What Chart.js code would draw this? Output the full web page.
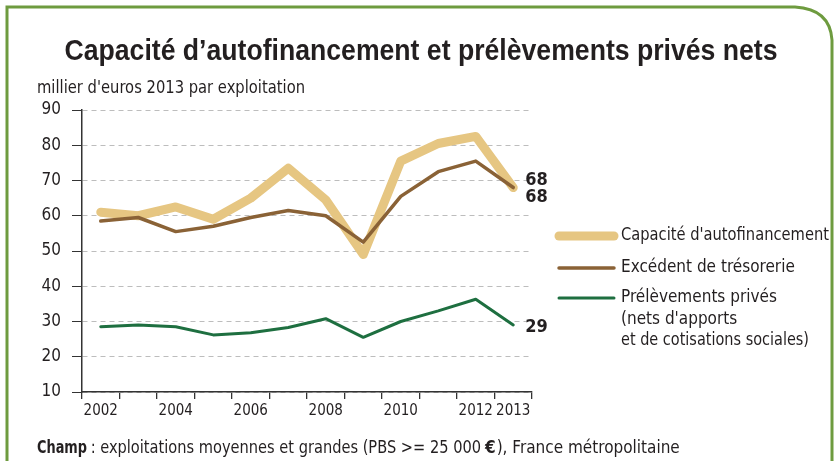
<!DOCTYPE html>
<html>
<head>
<meta charset="utf-8">
<script src="https://cdn.jsdelivr.net/npm/chart.js@4"></script>
<style>
	html, body { margin: 0; padding: 0; background: #fff; }
	canvas { display: block; }
</style>
</head>
<body>
<canvas id="chart" width="834" height="461"></canvas>
<script>
const years = ['2002', '2003', '2004', '2005', '2006', '2007', '2008', '2009', '2010', '2011', '2012', '2013'];
const shownYears = ['2002', '2004', '2006', '2008', '2010', '2012', '2013'];
const capacite = [61, 60, 62.5, 59, 65, 73.5, 64.5, 49, 75.5, 80.5, 82.5, 68];
const excedent = [58.5, 59.5, 55.5, 57, 59.5, 61.5, 60, 52.5, 65.5, 72.5, 75.5, 68];
const prelevements = [28.5, 29, 28.5, 26.2, 26.8, 28.3, 30.8, 25.5, 30, 33, 36.3, 29];
const endLabels = ['68', '68', '29'];

const seriesNames = ["Capacité d'autofinancement", 'Excédent de trésorerie', 'Prélèvements privés'];
const colors = ['#e6c682', '#8a6236', '#1e6f40'];
const widths = [9, 3.5, 3];

const textColor = '#231f20';
const narrow = '"Liberation Sans Narrow", "DejaVu Sans Condensed", sans-serif';

// Extra drawing: frame, titles, legend, end labels
const decorations = {
	id: 'decorations',
	afterDraw(chart) {
		const ctx = chart.ctx;
		const x = chart.scales.x;
		const y = chart.scales.y;
		ctx.save();

		// green frame with rounded top-right corner
		ctx.strokeStyle = '#6e9b3f';
		ctx.lineWidth = 3;
		ctx.beginPath();
		ctx.moveTo(7, 470);
		ctx.lineTo(7, 7);
		ctx.lineTo(795, 7);
		ctx.quadraticCurveTo(830, 9, 832, 40);
		ctx.lineTo(832, 470);
		ctx.stroke();

		// title
		ctx.fillStyle = textColor;
		ctx.textBaseline = 'alphabetic';
		ctx.textAlign = 'center';
		ctx.font = 'bold 29px "Liberation Sans", sans-serif';
		ctx.fillText('Capacité d\u2019autofinancement et prélèvements privés nets', 421, 60, 713);

		// unit
		ctx.textAlign = 'left';
		ctx.font = '17px ' + narrow;
		ctx.fillText("millier d'euros 2013 par exploitation", 37, 93, 268);

		// footer
		ctx.font = 'bold 17px ' + narrow;
		ctx.fillText('Champ', 37, 453, 50);
		ctx.font = '17px ' + narrow;
		ctx.fillText(' : exploitations moyennes et grandes (PBS >= 25 000', 86, 453, 395);
		ctx.font = 'bold 17px ' + narrow;
		ctx.fillText('\u20ac', 485, 453);
		const eW = ctx.measureText('\u20ac').width;
		ctx.font = '17px ' + narrow;
		ctx.fillText('), France métropolitaine', 486 + eW, 453, 187);

		// end-of-line labels
		const lastX = x.getPixelForValue(years.length - 1) + 12;
		ctx.font = 'bold 18px ' + narrow;
		ctx.textBaseline = 'middle';
		ctx.fillText(endLabels[0], lastX, y.getPixelForValue(capacite[11]) - 7);
		ctx.fillText(endLabels[1], lastX, y.getPixelForValue(excedent[11]) + 10);
		ctx.fillText(endLabels[2], lastX, y.getPixelForValue(prelevements[11]) + 2);

		// legend
		const legendY = [236, 268, 298];
		const legendW = [208, 185, 165];
		ctx.lineCap = 'round';
		ctx.font = '17px ' + narrow;
		legendY.forEach((ly, i) => {
			ctx.strokeStyle = colors[i];
			ctx.lineWidth = widths[i];
			ctx.beginPath();
			ctx.moveTo(559, ly);
			ctx.lineTo(614, ly);
			ctx.stroke();
			ctx.fillStyle = textColor;
			ctx.fillText(seriesNames[i], 621, ly, legendW[i]);
		});
		ctx.fillText("(nets d'apports", 621, 320, 120);
		ctx.fillText('et de cotisations sociales)', 621, 341, 188);

		ctx.restore();
	},
};

const ctx = document.getElementById('chart').getContext('2d');

new Chart(ctx, {
	type: 'line',
	data: {
		labels: years,
		datasets: [
			{ label: seriesNames[0], data: capacite, order: 3 },
			{ label: seriesNames[1], data: excedent, order: 2 },
			{ label: seriesNames[2], data: prelevements, order: 1 },
		].map((d, i) => ({
			...d,
			borderColor: colors[i],
			borderWidth: widths[i],
			pointRadius: 0,
			borderJoinStyle: 'round',
			borderCapStyle: 'round',
			tension: 0,
			fill: false,
		})),
	},
	options: {
		responsive: false,
		animation: false,
		layout: { padding: { left: 0, right: 302, top: 110, bottom: 39 } },
		plugins: {
			legend: { display: false },
			title: { display: false },
			tooltip: { enabled: false },
		},
		scales: {
			x: {
				offset: true,
				afterFit: (scale) => { scale.height = 30; },
				grid: {
					offset: true,
					drawOnChartArea: false,
					tickLength: 7,
					tickColor: '#333',
					lineWidth: 1.3,
				},
				border: { color: '#333', width: 1.5 },
				ticks: {
					autoSkip: false,
					maxRotation: 0,
					padding: 3,
					color: textColor,
					font: { family: narrow, size: 15 },
					callback: (v) => (shownYears.includes(years[v]) ? years[v] : ''),
				},
			},
			y: {
				min: 10,
				max: 90,
				afterFit: (scale) => { scale.width = 82; },
				grid: {
					color: '#bdbdbd',
					lineWidth: 1,
					tickLength: 10,
					tickColor: '#333',
					tickBorderDash: [],
				},
				border: { color: '#333', width: 1.5, dash: [5, 4] },
				ticks: {
					stepSize: 10,
					padding: 11,
					color: textColor,
					font: { family: narrow, size: 17 },
				},
			},
		},
	},
	plugins: [decorations],
});
</script>
</body>
</html>
